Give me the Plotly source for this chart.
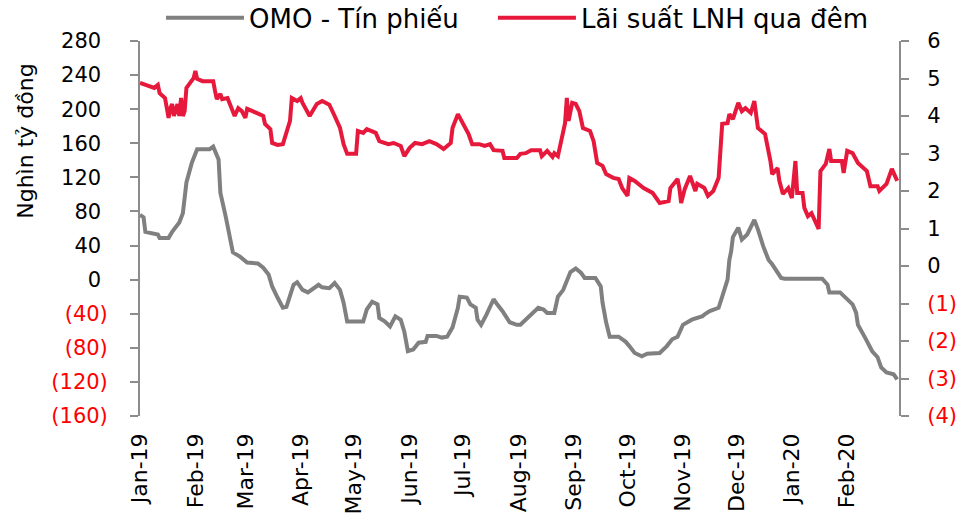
import plotly.graph_objects as go

# ---------------- data ----------------
omo_dates = [
    "2019-01-01", "2019-01-03", "2019-01-04", "2019-01-07", "2019-01-11", "2019-01-12", "2019-01-17", "2019-01-19", "2019-01-23", "2019-01-25",
    "2019-01-26", "2019-01-27", "2019-01-30", "2019-02-01", "2019-02-02", "2019-02-09", "2019-02-11", "2019-02-14", "2019-02-15", "2019-02-18",
    "2019-02-20", "2019-02-22", "2019-02-26", "2019-03-02", "2019-03-08", "2019-03-11", "2019-03-14", "2019-03-16", "2019-03-19", "2019-03-22",
    "2019-03-24", "2019-03-26", "2019-03-28", "2019-03-30", "2019-04-02", "2019-04-05", "2019-04-07", "2019-04-11", "2019-04-13", "2019-04-17",
    "2019-04-20", "2019-04-23", "2019-04-25", "2019-04-27", "2019-05-06", "2019-05-08", "2019-05-11", "2019-05-14", "2019-05-15", "2019-05-18",
    "2019-05-21", "2019-05-24", "2019-05-27", "2019-05-29", "2019-05-31", "2019-06-03", "2019-06-06", "2019-06-10", "2019-06-11", "2019-06-16",
    "2019-06-19", "2019-06-22", "2019-06-25", "2019-06-28", "2019-06-29", "2019-07-03", "2019-07-05", "2019-07-08", "2019-07-09", "2019-07-11",
    "2019-07-14", "2019-07-18", "2019-07-20", "2019-07-23", "2019-07-27", "2019-07-31", "2019-08-02", "2019-08-05", "2019-08-08", "2019-08-12",
    "2019-08-15", "2019-08-17", "2019-08-21", "2019-08-23", "2019-08-26", "2019-08-28", "2019-08-30", "2019-09-02", "2019-09-05", "2019-09-07",
    "2019-09-13", "2019-09-16", "2019-09-17", "2019-09-19", "2019-09-21", "2019-09-26", "2019-09-30", "2019-10-02", "2019-10-05", "2019-10-09",
    "2019-10-12", "2019-10-19", "2019-10-23", "2019-10-26", "2019-10-29", "2019-11-01", "2019-11-06", "2019-11-12", "2019-11-13", "2019-11-16",
    "2019-11-21", "2019-11-23", "2019-11-25", "2019-11-26", "2019-11-27", "2019-11-28", "2019-11-29", "2019-12-02", "2019-12-04", "2019-12-07",
    "2019-12-11", "2019-12-13", "2019-12-16", "2019-12-19", "2019-12-21", "2019-12-26", "2019-12-28", "2020-01-18", "2020-01-21", "2020-01-22",
    "2020-01-28", "2020-01-31", "2020-02-04", "2020-02-06", "2020-02-07", "2020-02-11", "2020-02-15", "2020-02-18", "2020-02-20", "2020-02-23",
    "2020-02-27", "2020-02-29",
]
omo_values = [
    76, 73, 56, 55, 53, 49, 49, 56, 67, 78,
    102, 114, 137, 146, 153, 153, 156, 141, 102, 74,
    50, 32, 27, 20, 19, 14, 6, -8, -21, -33,
    -32, -20, -6, -3, -12, -15, -12, -6, -9, -10,
    -4, -12, -27, -49, -49, -35, -26, -29, -45, -49,
    -55, -43, -47, -61, -84, -82, -74, -73, -66, -66,
    -68, -67, -56, -33, -20, -21, -29, -33, -47, -53,
    -41, -23, -29, -37, -50, -53, -53, -47, -41, -33,
    -35, -39, -39, -20, -12, 0, 9, 13, 8, 2,
    2, -8, -27, -50, -67, -67, -73, -78, -86, -90,
    -87, -86, -78, -70, -67, -53, -47, -43, -41, -37,
    -33, -20, -8, 0, 23, 33, 50, 61, 47, 53,
    70, 59, 39, 23, 18, 2, 1, 1, -6, -15,
    -15, -21, -29, -39, -53, -68, -84, -91, -103, -109,
    -111, -117,
]

rate_dates = [
    "2019-01-01", "2019-01-07", "2019-01-09", "2019-01-11", "2019-01-12", "2019-01-15", "2019-01-17", "2019-01-18", "2019-01-19", "2019-01-20",
    "2019-01-22", "2019-01-23", "2019-01-24", "2019-01-25", "2019-01-26", "2019-01-27", "2019-01-29", "2019-01-31", "2019-02-01", "2019-02-02",
    "2019-02-05", "2019-02-11", "2019-02-12", "2019-02-13", "2019-02-15", "2019-02-16", "2019-02-19", "2019-02-21", "2019-02-23", "2019-02-25",
    "2019-02-27", "2019-03-01", "2019-03-02", "2019-03-05", "2019-03-08", "2019-03-11", "2019-03-12", "2019-03-15", "2019-03-16", "2019-03-19",
    "2019-03-22", "2019-03-24", "2019-03-26", "2019-03-27", "2019-03-30", "2019-04-01", "2019-04-02", "2019-04-06", "2019-04-10", "2019-04-13",
    "2019-04-17", "2019-04-20", "2019-04-23", "2019-04-25", "2019-04-27", "2019-05-02", "2019-05-03", "2019-05-06", "2019-05-08", "2019-05-13",
    "2019-05-15", "2019-05-20", "2019-05-23", "2019-05-27", "2019-05-29", "2019-06-01", "2019-06-04", "2019-06-08", "2019-06-12", "2019-06-16",
    "2019-06-20", "2019-06-24", "2019-06-25", "2019-06-28", "2019-07-01", "2019-07-04", "2019-07-06", "2019-07-10", "2019-07-13", "2019-07-16",
    "2019-07-18", "2019-07-23", "2019-07-24", "2019-07-31", "2019-08-02", "2019-08-05", "2019-08-08", "2019-08-13", "2019-08-14", "2019-08-17",
    "2019-08-20", "2019-08-21", "2019-08-23", "2019-08-25", "2019-08-27", "2019-08-28", "2019-08-29", "2019-08-31", "2019-09-02", "2019-09-04",
    "2019-09-06", "2019-09-10", "2019-09-12", "2019-09-14", "2019-09-17", "2019-09-19", "2019-09-23", "2019-09-26", "2019-09-28", "2019-10-01",
    "2019-10-02", "2019-10-05", "2019-10-10", "2019-10-15", "2019-10-19", "2019-10-24", "2019-10-25", "2019-10-29", "2019-10-30", "2019-10-31",
    "2019-11-02", "2019-11-05", "2019-11-08", "2019-11-09", "2019-11-13", "2019-11-15", "2019-11-18", "2019-11-21", "2019-11-23", "2019-11-26",
    "2019-11-27", "2019-11-29", "2019-12-02", "2019-12-04", "2019-12-06", "2019-12-09", "2019-12-11", "2019-12-13", "2019-12-17", "2019-12-20",
    "2019-12-21", "2019-12-24", "2019-12-25", "2019-12-27", "2019-12-30", "2020-01-01", "2020-01-03", "2020-01-04", "2020-01-07", "2020-01-08",
    "2020-01-10", "2020-01-12", "2020-01-14", "2020-01-16", "2020-01-17", "2020-01-20", "2020-01-22", "2020-01-23", "2020-01-29", "2020-01-30",
    "2020-02-01", "2020-02-04", "2020-02-07", "2020-02-12", "2020-02-14", "2020-02-18", "2020-02-19", "2020-02-23", "2020-02-26", "2020-02-29",
]
rate_values = [
    4.88, 4.80, 4.75, 4.83, 4.61, 4.48, 3.95, 4.21, 4.32, 4.00,
    4.32, 4.00, 4.48, 4.00, 4.13, 4.75, 4.88, 5.01, 5.20, 4.99,
    4.93, 4.93, 4.67, 4.45, 4.59, 4.45, 4.48, 4.21, 4.00, 4.21,
    4.13, 3.95, 4.19, 4.13, 4.05, 4.00, 3.79, 3.65, 3.28, 3.23,
    3.25, 3.52, 3.87, 4.48, 4.40, 4.48, 4.35, 4.00, 4.32, 4.40,
    4.30, 4.00, 3.68, 3.25, 2.99, 2.99, 3.60, 3.55, 3.65, 3.55,
    3.33, 3.25, 3.28, 3.20, 2.93, 3.15, 3.28, 3.25, 3.33, 3.25,
    3.12, 3.28, 3.68, 4.05, 3.81, 3.52, 3.25, 3.25, 3.20, 3.25,
    3.09, 3.07, 2.88, 2.88, 2.99, 3.01, 3.09, 3.09, 2.93, 3.07,
    2.91, 3.01, 2.93, 3.41, 3.81, 4.48, 3.87, 4.35, 4.32, 4.13,
    3.68, 3.60, 3.33, 2.75, 2.67, 2.45, 2.35, 2.32, 2.08, 1.87,
    2.35, 2.27, 2.08, 1.95, 1.68, 1.73, 2.08, 2.32, 2.08, 1.68,
    2.05, 2.40, 2.00, 2.19, 2.08, 1.87, 2.00, 2.35, 3.79, 3.81,
    4.05, 3.92, 4.35, 4.13, 4.21, 4.08, 4.40, 3.68, 3.52, 2.80,
    2.45, 2.61, 2.27, 1.92, 2.08, 1.81, 2.80, 1.95, 1.95, 1.55,
    1.33, 1.41, 1.20, 0.99, 2.53, 2.72, 3.12, 2.80, 2.80, 2.48,
    3.07, 3.01, 2.75, 2.53, 2.13, 2.13, 2.00, 2.19, 2.59, 2.27,
]

month_ticks = [
    "2019-01-01", "2019-02-01", "2019-03-01", "2019-04-01", "2019-05-01", "2019-06-01", "2019-07-01",
    "2019-08-01", "2019-09-01", "2019-10-01", "2019-11-01", "2019-12-01", "2020-01-01", "2020-02-01",
]
month_labels = [
    "Jan-19", "Feb-19", "Mar-19", "Apr-19", "May-19", "Jun-19", "Jul-19",
    "Aug-19", "Sep-19", "Oct-19", "Nov-19", "Dec-19", "Jan-20", "Feb-20",
]
x_range = ["2019-01-01", "2020-03-01"]

left_ticks = [280, 240, 200, 160, 120, 80, 40, 0, -40, -80, -120, -160]
right_ticks = [6, 5, 4, 3, 2, 1, 0, -1, -2, -3, -4]

series_names = ["OMO - Tín phiếu", "Lãi suất LNH qua đêm"]
y_title = "Nghìn tỷ đồng"

# ---------------- styling ----------------
FONT = "DejaVu Sans"
GRAY = "#808080"
RED = "#E6193C"
AXIS = "#8C8C8C"


def fmt_left(v):
    # accounting style: negatives in red parentheses, positives padded on the right
    if v < 0:
        return f"<span style='color:#FF0000'>({abs(v)})</span>"
    return f"{v}\u00a0"


def fmt_right(v):
    if v < 0:
        return f"<span style='color:#FF0000'>({abs(v)})</span>"
    return str(v)


fig = go.Figure()
fig.add_trace(go.Scatter(
    x=omo_dates, y=omo_values, name=series_names[0], mode="lines",
    line=dict(color=GRAY, width=4), xaxis="x", yaxis="y", legend="legend",
))
fig.add_trace(go.Scatter(
    x=rate_dates, y=rate_values, name=series_names[1], mode="lines",
    line=dict(color=RED, width=4), xaxis="x", yaxis="y2", legend="legend2",
))

legend_common = dict(
    orientation="h", xanchor="left", y=1.062, yanchor="middle",
    font=dict(size=26, family=FONT, color="black"),
    bgcolor="rgba(0,0,0,0)", itemwidth=78,
)

fig.update_layout(
    width=959, height=515,
    margin=dict(l=140, r=60, t=41, b=99, pad=0, autoexpand=False),
    paper_bgcolor="white", plot_bgcolor="white",
    font=dict(family=FONT, color="black"),
    showlegend=True,
    legend=dict(x=0.0277, **legend_common),
    legend2=dict(x=0.465, **legend_common),
    xaxis=dict(
        type="date", range=x_range, tickmode="array",
        tickvals=month_ticks, ticktext=month_labels, tickangle=-90,
        showline=False, ticks="", showgrid=False, zeroline=False,
        tickfont=dict(size=22, family=FONT, color="black"),
        ticklabelstandoff=12, automargin=False,
    ),
    xaxis2=dict(
        type="date", range=x_range, overlaying="x", anchor="free", position=160 / 440,
        tickmode="array", tickvals=month_ticks, showticklabels=False,
        showline=True, linecolor=AXIS, linewidth=2,
        ticks="outside", ticklen=6, tickwidth=2, tickcolor=AXIS,
        showgrid=False, zeroline=False, automargin=False,
    ),
    yaxis=dict(
        range=[-160, 280], tickmode="array", tickvals=left_ticks,
        ticktext=[fmt_left(v) for v in left_ticks],
        showline=True, linecolor=AXIS, linewidth=2,
        ticks="outside", ticklen=8, tickwidth=2, tickcolor=AXIS,
        showgrid=False, zeroline=False,
        tickfont=dict(size=21, family=FONT, color="black"),
        ticklabelstandoff=18, automargin=False,
    ),
    yaxis2=dict(
        range=[-4, 6], overlaying="y", side="right", anchor="x",
        tickmode="array", tickvals=right_ticks,
        ticktext=[fmt_right(v) for v in right_ticks],
        showline=True, linecolor=AXIS, linewidth=2,
        ticks="outside", ticklen=8, tickwidth=2, tickcolor=AXIS,
        showgrid=False, zeroline=False,
        tickfont=dict(size=21, family=FONT, color="black"),
        ticklabelstandoff=14, automargin=False,
    ),
    annotations=[dict(
        text=y_title, xref="paper", yref="paper", x=-0.152, y=0.733,
        xanchor="center", yanchor="middle", textangle=-90, showarrow=False,
        font=dict(size=22, family=FONT, color="black"),
    )],
)

fig.write_html(
    "out.html",
    config={"displayModeBar": False},
    post_script="document.body.style.margin='0';document.body.style.padding='0';",
)
